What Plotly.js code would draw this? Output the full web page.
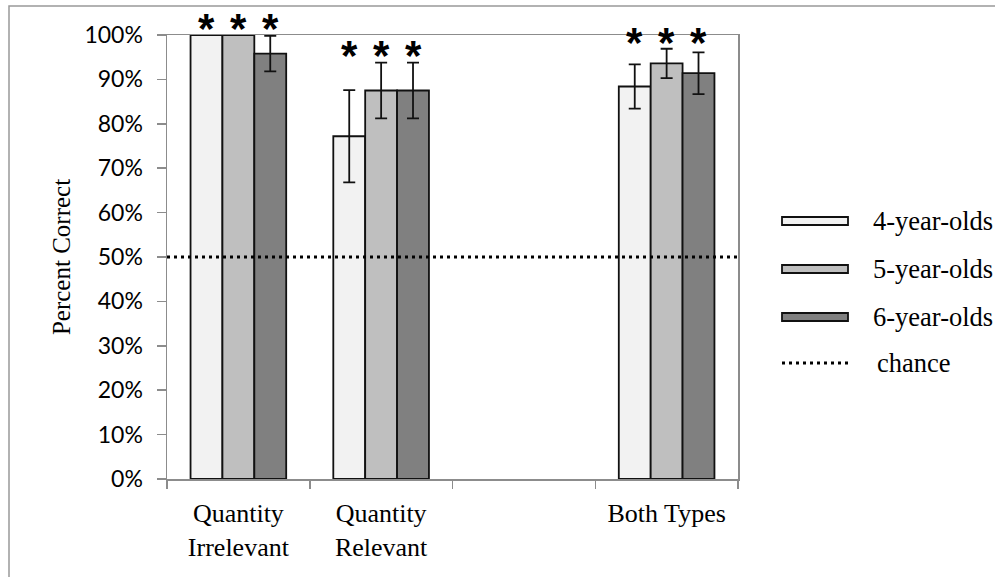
<!DOCTYPE html>
<html><head><meta charset="utf-8">
<script src="https://cdn.plot.ly/plotly-3.0.1.min.js"></script>
<style>html,body{margin:0;padding:0;background:#fff}#chart{width:995px;height:577px}</style>
</head><body><div id="chart"></div>
<script>
const categories = ['Quantity Irrelevant', 'Quantity Relevant', 'gap', 'Both Types'];
const tickLabels = ['Quantity<br>Irrelevant', 'Quantity<br>Relevant', '', 'Both Types'];
const seriesNames = ['4-year-olds', '5-year-olds', '6-year-olds'];
const values4 = [100, 77.2, null, 88.4];
const errors4 = [0, 10.4, null, 5.0];
const values5 = [100, 87.5, null, 93.6];
const errors5 = [0, 6.3, null, 3.3];
const values6 = [95.8, 87.5, null, 91.4];
const errors6 = [4.0, 6.3, null, 4.7];
const significant = [true, true, false, true];
const chanceLevel = 50;
const chanceName = 'chance';
const yRange = [0, 100];
const yStep = 10;

const seriesColors = ['#f2f2f2', '#bfbfbf', '#808080'];
const allValues = [values4, values5, values6];
const allErrors = [errors4, errors5, errors6];

const M = {l: 167, r: 257, t: 35, b: 98};
const W = 995, H = 577;
const plotW = W - M.l - M.r, plotH = H - M.t - M.b;
const bargap = 0.33;
const barPx = plotW / categories.length * (1 - bargap) / 3;

const traces = seriesNames.map((name, j) => ({
  type: 'bar', name: name, x: categories, y: allValues[j],
  marker: {color: seriesColors[j], line: {color: '#111', width: 1.8}},
  error_y: {type: 'data', array: allErrors[j], visible: true, color: '#111', thickness: 1.8, width: 6},
  showlegend: false, hoverinfo: 'skip'
}));

const yToPaper = v => (v - yRange[0]) / (yRange[1] - yRange[0]);
const annotations = [];
categories.forEach((c, i) => {
  if (!significant[i]) return;
  let top = 0;
  for (let j = 0; j < 3; j++) top = Math.max(top, allValues[j][i] + allErrors[j][i]);
  for (let j = 0; j < 3; j++) {
    annotations.push({x: c, xref: 'x', y: yToPaper(top + 3.3), yref: 'paper', xshift: (j - 1) * barPx, yshift: -8,
      text: '*', showarrow: false, xanchor: 'center', yanchor: 'middle',
      font: {family: 'Liberation Sans, Arial, sans-serif', size: 42, color: '#000', weight: 'bold'}});
  }
});

// custom legend
const px2x = p => (p - M.l) / plotW;
const px2y = p => (H - M.b - p) / plotH;
const legendRows = [221, 269, 317, 363];
const shapes = [];
seriesNames.forEach((name, j) => {
  shapes.push({type: 'rect', xref: 'paper', yref: 'paper', x0: px2x(782), x1: px2x(848),
    y0: px2y(legendRows[j] + 4), y1: px2y(legendRows[j] - 4),
    fillcolor: seriesColors[j], line: {color: '#111', width: 1.8}});
  annotations.push({xref: 'paper', yref: 'paper', x: px2x(871), y: px2y(legendRows[j]), text: name,
    showarrow: false, xanchor: 'left', yanchor: 'middle',
    font: {family: 'Liberation Serif, Times New Roman, serif', size: 26.5, color: '#000'}});
});
shapes.push({type: 'line', xref: 'paper', yref: 'paper', x0: px2x(782), x1: px2x(848),
  y0: px2y(legendRows[3]), y1: px2y(legendRows[3]), line: {color: '#000', width: 3, dash: '3px,4px'}});
annotations.push({xref: 'paper', yref: 'paper', x: px2x(875), y: px2y(legendRows[3]), text: chanceName,
  showarrow: false, xanchor: 'left', yanchor: 'middle',
  font: {family: 'Liberation Serif, Times New Roman, serif', size: 26.5, color: '#000'}});

// chance line
shapes.push({type: 'line', xref: 'paper', yref: 'y', x0: 0, x1: 1, y0: chanceLevel, y1: chanceLevel,
  line: {color: '#000', width: 3, dash: '3px,4px'}, layer: 'above'});
// outer frame
shapes.push({type: 'rect', xref: 'paper', yref: 'paper', x0: px2x(9), x1: px2x(1010), y0: px2y(590), y1: px2y(6),
  line: {color: '#999', width: 1.5}, fillcolor: 'rgba(0,0,0,0)'});

const layout = {
  width: W, height: H, margin: M, paper_bgcolor: '#fff', plot_bgcolor: '#fff',
  barmode: 'group', bargap: bargap, bargroupgap: 0, showlegend: false,
  xaxis: {type: 'category', tickvals: categories, ticktext: tickLabels, tickson: 'boundaries',
    ticks: 'outside', ticklen: 8, tickwidth: 1.5, tickcolor: '#8c8c8c', ticklabelstandoff: 10,
    showline: true, linecolor: '#8c8c8c', linewidth: 1.5, mirror: true, showgrid: false,
    tickfont: {family: 'Liberation Serif, Times New Roman, serif', size: 26, color: '#000'}, fixedrange: true},
  yaxis: {range: yRange, tickmode: 'linear', tick0: yRange[0], dtick: yStep, ticksuffix: '%',
    ticks: 'outside', ticklen: 9, tickwidth: 1.5,
    tickcolor: '#8c8c8c', showline: true, linecolor: '#8c8c8c', linewidth: 1.5, mirror: true, showgrid: false,
    zeroline: false, ticklabelstandoff: 9,
    tickfont: {family: 'Lato, sans-serif', size: 23, color: '#000'},
    title: {text: 'Percent Correct', standoff: 6, font: {family: 'Liberation Serif, Times New Roman, serif', size: 25, color: '#000'}},
    fixedrange: true},
  shapes: shapes, annotations: annotations
};
Plotly.newPlot('chart', traces, layout, {displayModeBar: false, staticPlot: true});
</script></body></html>
